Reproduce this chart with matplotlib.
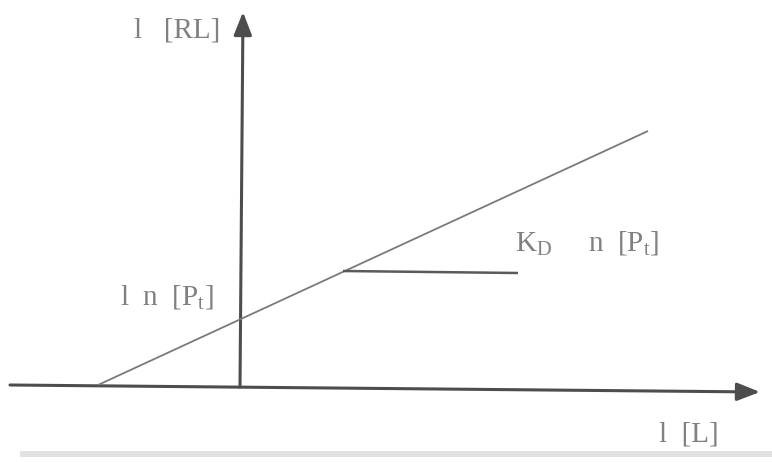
import matplotlib
matplotlib.use("Agg")
import matplotlib.pyplot as plt
from matplotlib.patches import FancyArrowPatch, Rectangle

plt.rcParams['font.family'] = ['Liberation Serif', 'DejaVu Serif']
plt.rcParams['mathtext.fontset'] = 'custom'
plt.rcParams['mathtext.rm'] = 'Liberation Serif'
plt.rcParams['mathtext.it'] = 'Liberation Serif:italic'

# diagram coordinates (pixel-like units, y grows downwards)
x_axis_start = (10, 385)
x_axis_tip = (760, 392)
y_axis_start = (240, 387)
y_axis_tip = (243, 12)
binding_line_x = [98, 648]
binding_line_y = [385, 131]
slope_mark_x = [343, 518]
slope_mark_y = [271, 273]

label_texts = [r"l   [RL]", r"l  n  [$\mathrm{P_t}$]", r"K$_\mathrm{D}$     n  [$\mathrm{P_t}$]", r"l  [L]"]
label_pos = [(134, 31), (120, 297), (515, 243), (659, 434)]

AXIS_COLOR = '#4d4d4d'
LINE_COLOR = '#7a7a7a'
TEXT_COLOR = '#808080'


def arrow(ax, start, tip):
    ax.add_patch(FancyArrowPatch(start, tip,
                                 arrowstyle='-|>,head_length=1.4,head_width=0.55',
                                 mutation_scale=10, shrinkA=0, shrinkB=0,
                                 color=AXIS_COLOR, lw=2.2))


fig = plt.figure(figsize=(7.72, 4.62), dpi=100)
ax = fig.add_axes([0, 0, 1, 1])
ax.set_xlim(0, 772)
ax.set_ylim(462, 0)
ax.axis('off')

arrow(ax, x_axis_start, x_axis_tip)
arrow(ax, y_axis_start, y_axis_tip)
ax.plot(binding_line_x, binding_line_y, color=LINE_COLOR, lw=1.3, solid_capstyle='butt')
ax.plot(slope_mark_x, slope_mark_y, color='#5a5a5a', lw=1.8, solid_capstyle='butt')

for txt, (x, y) in zip(label_texts, label_pos):
    ax.text(x, y, txt, ha='left', va='center', fontsize=21, color=TEXT_COLOR)

# faint scanner edge along the bottom
ax.add_patch(Rectangle((20, 451), 752, 6, color='#e2e2e2', lw=0))

fig.savefig('out.png', dpi=100)
